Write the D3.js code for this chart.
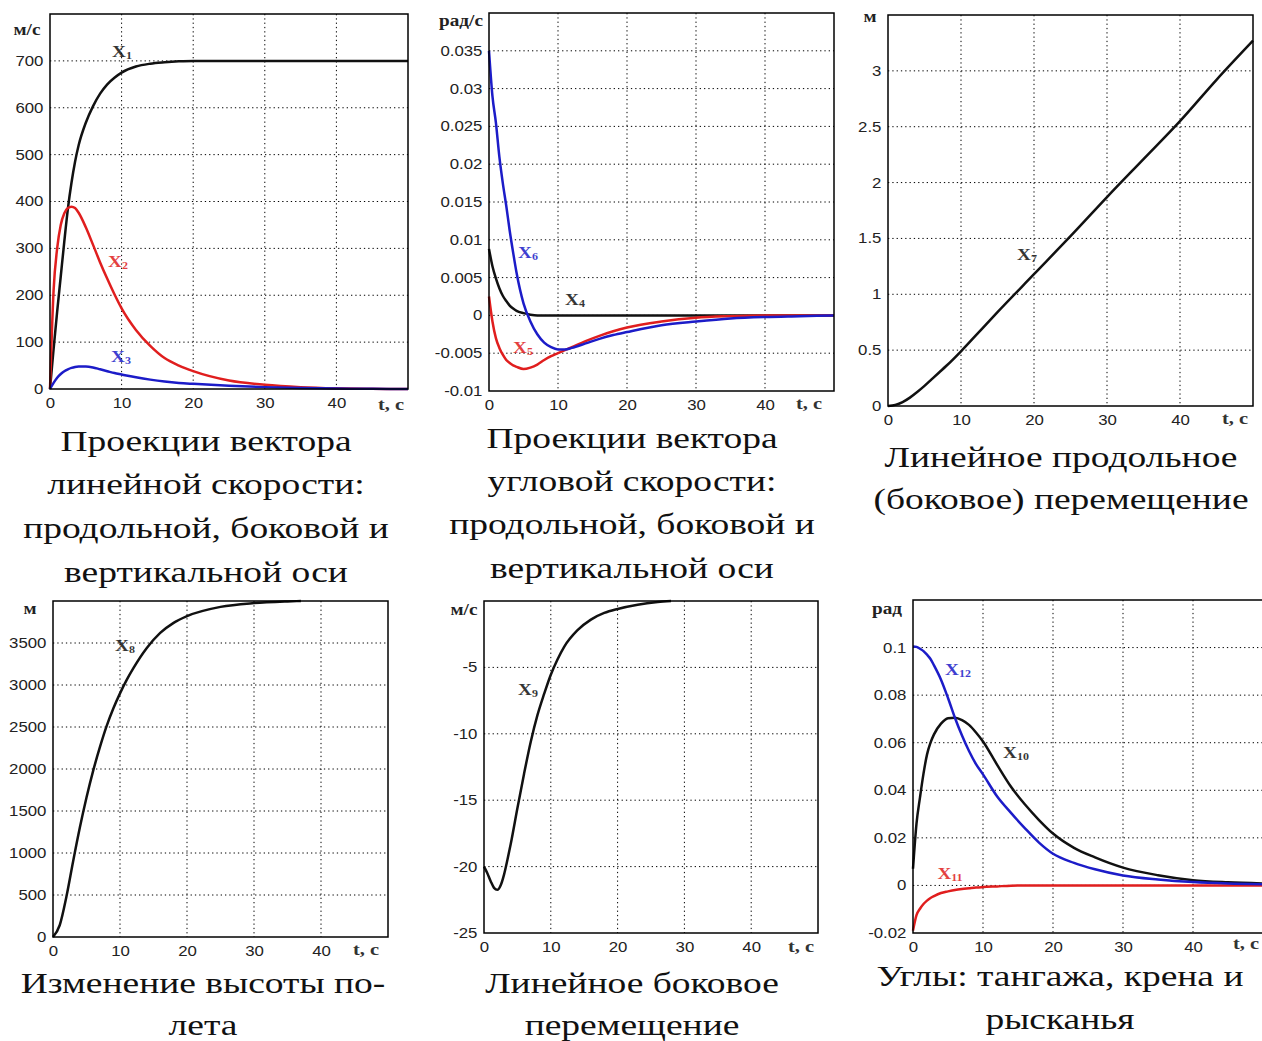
<!DOCTYPE html>
<html>
<head>
<meta charset="utf-8">
<script src="https://cdn.jsdelivr.net/npm/d3@7"></script>
<style>
  body { margin: 0; background: #fff; }
  .tick text { font-family: "Liberation Sans", Arial, sans-serif; font-size: 14px; fill: #222; }
  .caption { font-family: "Liberation Serif", "Times New Roman", serif; font-size: 30px; fill: #111; }
  .unit { font-family: "Liberation Serif", serif; font-weight: bold; font-size: 16px; fill: #222; }
  .tlab { font-family: "Liberation Serif", serif; font-weight: bold; font-size: 17px; fill: #333; }
  .slab { font-family: "Liberation Serif", serif; font-weight: bold; font-size: 16px; }
</style>
</head>
<body>
<svg id="chart" width="1262" height="1041"></svg>
<script>
// ---- data ----
var xTicks = [0, 10, 20, 30, 40];

// panel 1: linear velocity, m/s
var t1 = [0, 0.5, 1, 1.5, 2, 2.5, 3, 3.5, 4, 5, 6, 7, 8, 9, 10, 12, 14, 16, 18, 20, 25, 30, 35, 40, 45, 50];
var x1 = [0, 85, 165, 240, 315, 385, 440, 485, 520, 568, 603, 630, 650, 664, 675, 688, 694, 697, 699, 700, 700, 700, 700, 700, 700, 700];
var x2 = [0, 210, 300, 350, 375, 386, 389, 386, 376, 345, 308, 270, 235, 202, 172, 126, 92, 66, 50, 38, 18, 9, 4, 1.5, 0.5, 0];
var x3 = [0, 13, 24, 32, 38, 42, 45, 47, 48, 48, 46, 42, 38, 34, 31, 25, 20, 16, 13, 11, 7, 4, 2, 1, 0.5, 0];
var yTicks1 = [0, 100, 200, 300, 400, 500, 600, 700];

// panel 2: angular velocity, rad/s
var t2 = [0, 0.5, 1, 1.5, 2, 2.5, 3, 3.5, 4, 5, 6, 7, 8, 9, 10, 11, 12, 14, 16, 18, 20, 25, 30, 35, 40, 45, 50];
var x4 = [0.0088, 0.0065, 0.0049, 0.0036, 0.0026, 0.0019, 0.0013, 0.0009, 0.0006, 0.0003, 0.0001, 0, 0, 0, 0, 0, 0, 0, 0, 0, 0, 0, 0, 0, 0, 0, 0];
var x5 = [0.0025, -0.0008, -0.003, -0.0043, -0.0052, -0.0059, -0.0063, -0.0066, -0.0068, -0.0071, -0.0069, -0.0065, -0.0059, -0.0054, -0.005, -0.0046, -0.0042, -0.0034, -0.0027, -0.0021, -0.0016, -0.0008, -0.0003, -0.0001, 0, 0, 0];
var x6 = [0.035, 0.029, 0.0255, 0.021, 0.0175, 0.0145, 0.0112, 0.0083, 0.0056, 0.0016, -0.0008, -0.0025, -0.0036, -0.0042, -0.0045, -0.0045, -0.0043, -0.0037, -0.0031, -0.0026, -0.0022, -0.0013, -0.0008, -0.0004, -0.0002, -0.0001, 0];
var yTicks2 = [-0.01, -0.005, 0, 0.005, 0.01, 0.015, 0.02, 0.025, 0.03, 0.035];
var yLabels2 = ["-0.01", "-0.005", "0", "0.005", "0.01", "0.015", "0.02", "0.025", "0.03", "0.035"];

// panel 3: longitudinal displacement, m
var t3 = [0, 1, 2, 3, 4, 5, 6, 7, 8, 10, 12, 15, 20, 25, 30, 35, 40, 45, 50];
var x7 = [0, 0.01, 0.035, 0.075, 0.125, 0.18, 0.24, 0.3, 0.36, 0.49, 0.63, 0.84, 1.18, 1.52, 1.87, 2.21, 2.55, 2.92, 3.27];
var yTicks3 = [0, 0.5, 1, 1.5, 2, 2.5, 3];

// panel 4: altitude, m
var t4 = [0, 1, 2, 3, 4, 5, 6, 7, 8, 9, 10, 11, 12, 14, 16, 18, 20, 25, 30, 35, 37];
var x8 = [0, 140, 480, 900, 1300, 1660, 1980, 2260, 2510, 2720, 2900, 3060, 3200, 3440, 3620, 3740, 3820, 3930, 3975, 3995, 4000];
var yTicks4 = [0, 500, 1000, 1500, 2000, 2500, 3000, 3500];

// panel 5: lateral velocity, m/s
var t5 = [0, 0.5, 1, 1.5, 2, 2.5, 3, 3.5, 4, 5, 6, 7, 8, 9, 10, 11, 12, 14, 16, 18, 20, 23, 26, 28];
var x9 = [-20, -20.5, -21.1, -21.6, -21.75, -21.4, -20.6, -19.5, -18.3, -15.6, -13, -10.6, -8.6, -7, -5.55, -4.4, -3.45, -2.2, -1.4, -0.9, -0.6, -0.28, -0.08, 0];
var yTicks5 = [-25, -20, -15, -10, -5];

// panel 6: pitch, roll, yaw angles, rad
var t6 = [0, 0.5, 1, 1.5, 2, 2.5, 3, 4, 5, 6, 7, 8, 9, 10, 12, 14, 16, 18, 20, 23, 26, 30, 35, 40, 45, 50];
var x10 = [0.007, 0.026, 0.037, 0.047, 0.055, 0.06, 0.0635, 0.068, 0.0703, 0.0705, 0.0695, 0.0675, 0.0643, 0.0605, 0.0508, 0.0415, 0.034, 0.0275, 0.0218, 0.0158, 0.0118, 0.0075, 0.0043, 0.0022, 0.0013, 0.0008];
var x11 = [-0.019, -0.0125, -0.0098, -0.0078, -0.0064, -0.0053, -0.0045, -0.0032, -0.0025, -0.0019, -0.0015, -0.0012, -0.0009, -0.0007, -0.0004, -0.0001, 0, 0, 0, 0, 0, 0, 0, 0, 0, 0];
var x12 = [0.1005, 0.1003, 0.0995, 0.0985, 0.097, 0.0952, 0.0925, 0.0865, 0.0788, 0.0704, 0.063, 0.0565, 0.051, 0.0467, 0.0375, 0.0305, 0.024, 0.018, 0.0133, 0.0095, 0.0068, 0.0042, 0.0025, 0.0014, 0.0008, 0.0005];
var yTicks6 = [-0.02, 0, 0.02, 0.04, 0.06, 0.08, 0.1];
var yLabels6 = ["-0.02", "0", "0.02", "0.04", "0.06", "0.08", "0.1"];

var captions = [
  ["Проекции вектора", "линейной скорости:", "продольной, боковой и", "вертикальной оси"],
  ["Проекции вектора", "угловой скорости:", "продольной, боковой и", "вертикальной оси"],
  ["Линейное продольное", "(боковое) перемещение"],
  ["Изменение высоты по-", "лета"],
  ["Линейное боковое", "перемещение"],
  ["Углы: тангажа, крена и", "рысканья"]
];

var BLACK = "#111", RED = "#e01e1e", BLUE = "#1c1cc8";
var SX = 1.2;  // picture is stretched sideways
var CSX = 1.25;

var panels = [
  { box: [50, 14, 408, 389], y: [0, 800], yt: yTicks1, unit: "м/с", unitAt: [27, 35], tAt: [391, 410],
    cap: captions[0], capX: 206, capY: [451, 494, 538, 582],
    series: [
      { t: t1, v: x1, c: BLACK, lab: "1", at: [122, 57] },
      { t: t1, v: x2, c: RED, lab: "2", at: [118, 267] },
      { t: t1, v: x3, c: BLUE, lab: "3", at: [121, 362] }
    ] },
  { box: [489, 13, 834, 391], y: [-0.01, 0.04], yt: yTicks2, yl: yLabels2, unit: "рад/с", unitAt: [461, 26], tAt: [809, 409],
    cap: captions[1], capX: 632, capY: [448, 491, 534, 578],
    series: [
      { t: t2, v: x4, c: BLACK, lab: "4", at: [575, 305] },
      { t: t2, v: x5, c: RED, lab: "5", at: [523, 353] },
      { t: t2, v: x6, c: BLUE, lab: "6", at: [528, 258] }
    ] },
  { box: [888, 15, 1253, 406], y: [0, 3.5], yt: yTicks3, unit: "м", unitAt: [870, 22], tAt: [1235, 424],
    cap: captions[2], capX: 1061, capY: [467, 509],
    series: [
      { t: t3, v: x7, c: BLACK, lab: "7", at: [1027, 260] }
    ] },
  { box: [53, 601, 388, 937], y: [0, 4000], yt: yTicks4, unit: "м", unitAt: [30, 614], tAt: [366, 955],
    cap: captions[3], capX: 203, capY: [993, 1035],
    series: [
      { t: t4, v: x8, c: BLACK, lab: "8", at: [125, 651] }
    ] },
  { box: [484, 601, 818, 933], y: [-25, 0], yt: yTicks5, unit: "м/с", unitAt: [464, 615], tAt: [801, 952],
    cap: captions[4], capX: 632, capY: [993, 1035],
    series: [
      { t: t5, v: x9, c: BLACK, lab: "9", at: [528, 695] }
    ] },
  { box: [913, 600, 1263, 933], y: [-0.02, 0.12], yt: yTicks6, yl: yLabels6, unit: "рад", unitAt: [887, 614], tAt: [1246, 949],
    cap: captions[5], capX: 1060, capY: [986, 1029],
    series: [
      { t: t6, v: x10, c: BLACK, lab: "10", at: [1016, 758] },
      { t: t6, v: x11, c: RED, lab: "11", at: [950, 879] },
      { t: t6, v: x12, c: BLUE, lab: "12", at: [958, 675] }
    ] }
];

var svg = d3.select("#chart");

panels.forEach(drawPanel);

function drawPanel(p) {
  var b = p.box;
  var x = d3.scaleLinear().domain([0, 50]).range([b[0], b[2]]);
  var y = d3.scaleLinear().domain(p.y).range([b[3], b[1]]);
  var g = svg.append("g");

  // dotted grid
  g.selectAll(".gx").data(xTicks.filter(function(d) { return d > 0; }))
    .enter().append("line")
    .attr("x1", function(d) { return x(d); }).attr("x2", function(d) { return x(d); })
    .attr("y1", b[1]).attr("y2", b[3])
    .attr("stroke", "#000").attr("stroke-width", 1).attr("stroke-dasharray", "1.3,3");
  g.selectAll(".gy").data(p.yt.filter(function(d) { return d > p.y[0]; }))
    .enter().append("line")
    .attr("y1", function(d) { return y(d); }).attr("y2", function(d) { return y(d); })
    .attr("x1", b[0]).attr("x2", b[2])
    .attr("stroke", "#000").attr("stroke-width", 1).attr("stroke-dasharray", "1.3,3");

  // axes (labels only, frame drawn separately)
  var ax = g.append("g").attr("transform", "translate(0," + b[3] + ")")
    .call(d3.axisBottom(x).tickValues(xTicks).tickSize(0).tickPadding(9));
  ax.select(".domain").remove();
  ax.selectAll("text").attr("transform", "scale(" + SX + ",1)");

  var ay = g.append("g").attr("transform", "translate(" + b[0] + ",0)")
    .call(d3.axisLeft(y).tickValues(p.yt).tickSize(0).tickPadding(5.5)
      .tickFormat(function(d, i) { return p.yl ? p.yl[i] : String(d); }));
  ay.select(".domain").remove();
  ay.selectAll("text").attr("transform", "scale(" + SX + ",1)");

  // curves
  var line = d3.line().curve(d3.curveMonotoneX);
  p.series.forEach(function(s) {
    var pts = s.t.map(function(t, i) { return [x(t), y(s.v[i])]; });
    g.append("path").attr("d", line(pts))
      .attr("fill", "none").attr("stroke", s.c).attr("stroke-width", 2.5)
      .attr("stroke-linejoin", "round");
  });

  // frame
  g.append("rect").attr("x", b[0]).attr("y", b[1])
    .attr("width", b[2] - b[0]).attr("height", b[3] - b[1])
    .attr("fill", "none").attr("stroke", "#000").attr("stroke-width", 1.5);

  // series labels X with subscript
  p.series.forEach(function(s) {
    var tx = g.append("text").attr("class", "slab")
      .attr("transform", "translate(" + s.at[0] + "," + s.at[1] + ") scale(" + SX + ",1)")
      .attr("text-anchor", "middle").attr("fill", s.c).attr("opacity", 0.85);
    tx.append("tspan").text("X");
    tx.append("tspan").attr("font-size", "10px").attr("dy", 2).text(s.lab);
  });

  // units and time label
  g.append("text").attr("class", "unit")
    .attr("transform", "translate(" + p.unitAt[0] + "," + p.unitAt[1] + ") scale(" + SX + ",1)")
    .attr("text-anchor", "middle").text(p.unit);
  g.append("text").attr("class", "tlab")
    .attr("transform", "translate(" + p.tAt[0] + "," + p.tAt[1] + ") scale(" + SX + ",1)")
    .attr("text-anchor", "middle").text("t, c");

  // caption under the plot
  p.cap.forEach(function(txt, i) {
    svg.append("text").attr("class", "caption")
      .attr("transform", "translate(" + p.capX + "," + p.capY[i] + ") scale(" + CSX + ",1)")
      .attr("text-anchor", "middle").text(txt);
  });
}
</script>
</body>
</html>
